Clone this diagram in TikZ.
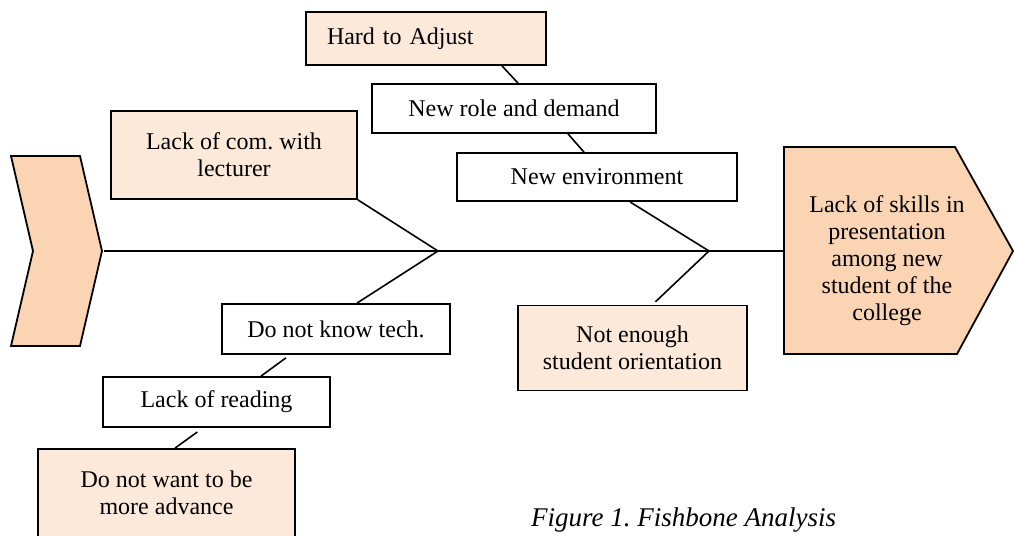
\documentclass[tikz,border=0pt]{standalone}
\usepackage{fontspec}
\setmainfont{Liberation Serif}
\usetikzlibrary{calc}
\frenchspacing

\definecolor{peach}{HTML}{FBD4B4}
\definecolor{peachlt}{HTML}{FDE9D9}

\begin{document}
\begin{tikzpicture}[
    x=0.5pt, y=-0.5pt,
    every node/.style={font=\fontsize{12}{13.5}\selectfont},
    % 鱼头 / 鱼尾
    fish/.style={draw, line width=0.9pt, fill=peach, line join=miter},
    % 原因框（浅色填充）
    cause/.style={
        draw, line width=0.9pt, fill=peachlt, align=center,
        inner sep=2pt
    },
    % 子原因框（白底）
    sub/.style={
        draw, line width=0.9pt, fill=white, align=center,
        inner sep=2pt
    },
    % 骨线
    bone/.style={-, line width=0.8pt},
]
\useasboundingbox (0,0) rectangle (1014,536);

%% ── 主干节点坐标 ───────────────────────────────────────
\def\sy{251}  % 主干的 y 坐标

\coordinate (tail)  at (104, \sy);
\coordinate (j1)    at (438, \sy);
\coordinate (j2)    at (709, \sy);
\coordinate (mouth) at (784, \sy);

%% ── 鱼尾与鱼头 ─────────────────────────────────────────
\draw[fish] (11,156) -- (80,156) -- (102,\sy) -- (80,346) -- (11,346) -- (33,\sy) -- cycle;
\draw[fish] (784,147) -- (955,147) -- (1013,\sy) -- (957,354) -- (784,354) -- cycle;

\node[align=center] (effect) at (887,261)
    {Lack of skills in\\presentation\\among new\\student of the\\college};

%% ── 原因框 ─────────────────────────────────────────────
\node[cause, minimum width=120pt, minimum height=26.5pt, text width=99pt, align=left]
    (hard) at (426, 38.5) {Hard to Adjust};
\node[sub, minimum width=142pt, minimum height=24.5pt] (role) at (514, 108.5) {New role and demand};
\node[sub, minimum width=140pt, minimum height=24pt]   (env)  at (597, 177)   {New environment};

\node[cause, minimum width=114.5pt, minimum height=42.5pt]
    (orient) at (632.5, 348) {Not enough\\student orientation};

\node[cause, minimum width=123pt, minimum height=44pt]
    (com) at (234, 155) {Lack of com. with\\lecturer};

\node[sub, minimum width=114pt, minimum height=25pt]   (tech)    at (336, 329)   {Do not know tech.};
\node[sub, minimum width=113.5pt, minimum height=25pt] (reading) at (216.5, 402) {Lack of reading};

\node[cause, minimum width=128.5pt, minimum height=44pt]
    (advance) at (166.5, 493) {Do not want to be\\more advance};

%% ── 骨线连接 ───────────────────────────────────────────
\draw[bone] (tail) -- (j1) -- (j2) -- (mouth);

% 上方分支
\draw[bone] ($(hard.south)+(76,0)$) -- ($(role.north)+(4,0)$);
\draw[bone] ($(role.south)+(54,0)$) -- ($(env.north)+(-13,0)$);
\draw[bone] ($(env.south)+(33,0)$) -- (j2);
\draw[bone] (com.south east) -- (j1);

% 下方分支
\draw[bone, shorten >=2pt] (j2) -- ($(orient.north)+(20,0)$);
\draw[bone] (j1) -- ($(tech.north)+(21,0)$);
\draw[bone, shorten <=2.5pt] ($(tech.south)+(-46,0)$) -- ($(reading.north)+(44.5,0)$);
\draw[bone, shorten <=3.5pt] ($(reading.south)+(-13.5,0)$) -- ($(advance.north)+(8.5,0)$);

%% ── 图题 ───────────────────────────────────────────────
\node[font=\fontsize{13.5}{15}\selectfont\itshape, anchor=west] (caption) at (524, 520)
    {Figure 1. Fishbone Analysis};

\end{tikzpicture}
\end{document}
